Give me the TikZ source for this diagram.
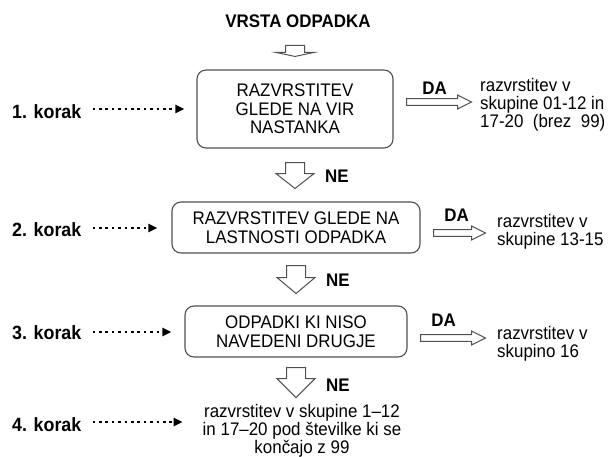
\documentclass[tikz,border=0pt]{standalone}
\usepackage{fontspec}
\setmainfont{Liberation Sans}[FakeStretch=0.93]
\usetikzlibrary{calc,arrows.meta}
\definecolor{frame}{HTML}{505050}
\tikzset{
  every node/.style={inner sep=0pt, text=black},
  txt/.style={font=\fontsize{18.2}{18}\selectfont, align=center},
  lbl/.style={font=\bfseries\fontsize{18.2}{18}\selectfont},
  korak/.style={font=\bfseries\fontsize{19.2}{20}\selectfont, anchor=west},
  stepbox/.style={draw=frame, line width=1.1pt, rounded corners=9pt, align=center,
    font=\fontsize{18.2}{18.5}\selectfont},
  result/.style={anchor=west, align=left, font=\fontsize{18.2}{18}\selectfont},
  dotarrow/.style={line width=2.6pt, dash pattern=on 2.6pt off 3.8pt,
    -{Triangle[length=9pt,width=8pt]}},
  blockline/.style={draw=frame, line width=1pt, fill=white, line join=miter},
  pics/downarrow/.style 2 args={code={
    \path[blockline] (-9.5,0) -- (-9.5,#1) -- (-19,#1) -- (0,#2) -- (19,#1)
      -- (9.5,#1) -- (9.5,0) -- cycle;}},
  pics/rightarrow/.style={code={
    \path[blockline] (0,-3.3) -- (#1-14,-3.3) -- (#1-14,-7) -- (#1,0)
      -- (#1-14,7) -- (#1-14,3.3) -- (0,3.3) -- cycle;}},
}
\begin{document}
\begin{tikzpicture}[x=1pt,y=-1pt]
\clip (0,0) rectangle (613,457);
\fill[white] (0,0) rectangle (613,457);

% title and the decision boxes
\node[lbl] (title) at (298,21) {VRSTA ODPADKA};
\node[stepbox, minimum width=196pt, minimum height=78pt] (b1) at (295,109)
  {RAZVRSTITEV\\GLEDE NA VIR\\NASTANKA};
\node[stepbox, minimum width=248pt, minimum height=51pt] (b2) at (296,227.5)
  {RAZVRSTITEV GLEDE NA\\LASTNOSTI ODPADKA};
\node[stepbox, minimum width=222pt, minimum height=51pt] (b3) at (296,331.5)
  {ODPADKI KI NISO\\NAVEDENI DRUGJE};
\node[txt] (b4) at (302,431)
  {razvrstitev v skupine 1–12\\in 17–20 pod številke ki se\\končajo z 99};

% results of the "DA" branches
\node[result] (r1) at (480,104.5) {razvrstitev v\\skupine 01-12 in\\17-20\ \ (brez\ \ 99)};
\node[result] (r2) at (497,232) {razvrstitev v\\skupine 13-15};
\node[result] (r3) at (497,344) {razvrstitev v\\skupino 16};

% step labels
\node[korak] (k1) at (12,112) {1. korak};
\node[korak] (k2) at (12,230) {2. korak};
\node[korak] (k3) at (12,333) {3. korak};
\node[korak] (k4) at (12,425) {4. korak};

\draw[dotarrow] ($(k1.east)+(11,-3)$) -- ($(k1.east -| b1.west)+(-12,-3)$);
\draw[dotarrow] ($(k2.east)+(11,-2)$) -- ($(k2.east -| b2.west)+(-14,-2)$);
\draw[dotarrow] ($(k3.east)+(11,-1)$) -- ($(k3.east -| b3.west)+(-13,-1)$);
\draw[dotarrow] ($(k4.east)+(11,-3)$) -- ($(k4.east -| b4.west)+(-20,-3)$);

% downward block arrows
\coordinate (d0) at ($(b1.north)+(0,-24)$);
\coordinate (d1) at ($(b1.south)+(0,14)$);
\coordinate (d2) at ($(b2.south)+(0,12)$);
\coordinate (d3) at ($(b3.south)+(0,10)$);
\pic at (d0) {downarrow={7}{11}};
\pic at (d1) {downarrow={11}{26}};
\pic at (d2) {downarrow={12}{28}};
\pic at (d3) {downarrow={11}{30}};
\node[lbl] (ne1) at ($(d1)+(42,14)$) {NE};
\node[lbl] (ne2) at ($(d2)+(42,15)$) {NE};
\node[lbl] (ne3) at ($(d3)+(42,18)$) {NE};

% rightward block arrows
\coordinate (a1) at ($(b1.east)+(13,-7)$);
\coordinate (a2) at ($(b2.east)+(13,5.5)$);
\coordinate (a3) at ($(b3.east)+(13,6.5)$);
\pic at (a1) {rightarrow=65};
\pic at (a2) {rightarrow=52};
\pic at (a3) {rightarrow=65};
\node[lbl] (da1) at ($(a1)+(28,-14)$) {DA};
\node[lbl] (da2) at ($(a2)+(23,-18)$) {DA};
\node[lbl] (da3) at ($(a3)+(23,-18)$) {DA};
\end{tikzpicture}
\end{document}
